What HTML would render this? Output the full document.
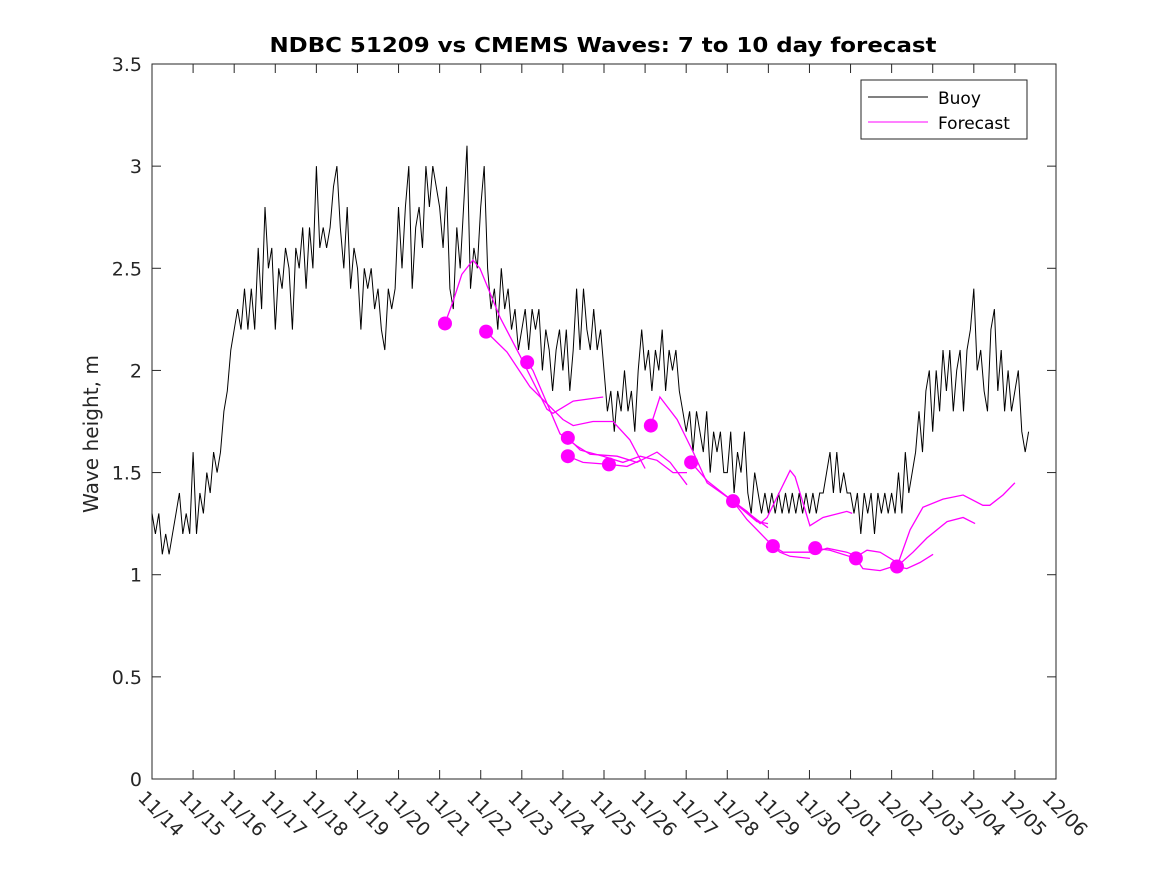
<!DOCTYPE html>
<html><head><meta charset="utf-8"><style>
body{margin:0;background:#fff;}
svg{display:block;font-family:"DejaVu Sans","Liberation Sans",sans-serif;}
</style></head><body>
<svg id="chart" width="1167" height="875" viewBox="0 0 1167 875">
<rect x="0" y="0" width="1167" height="875" fill="#fff"/>
<text x="603" y="52" text-anchor="middle" font-size="20" font-weight="bold" fill="#000" textLength="667" lengthAdjust="spacingAndGlyphs">NDBC 51209 vs CMEMS Waves: 7 to 10 day forecast</text>
<text transform="translate(98,434) rotate(-90)" text-anchor="middle" font-size="20" fill="#262626" textLength="158" lengthAdjust="spacingAndGlyphs">Wave height, m</text>
<g id="axes"></g>
<g id="buoy"></g>
<g id="fc"></g>
<g>
<rect x="861" y="80" width="166" height="59" fill="#fff" stroke="#262626" stroke-width="1"/>
<line x1="868" y1="97" x2="928" y2="97" stroke="#000" stroke-width="1"/>
<text x="938" y="104" font-size="17" fill="#000">Buoy</text>
<line x1="868" y1="122" x2="928" y2="122" stroke="#ff00ff" stroke-width="1"/>
<text x="938" y="129" font-size="17" fill="#000">Forecast</text>
</g>
</svg>
<script>
const xTickLabels=["11/14","11/15","11/16","11/17","11/18","11/19","11/20","11/21","11/22","11/23","11/24","11/25","11/26","11/27","11/28","11/29","11/30","12/01","12/02","12/03","12/04","12/05","12/06"];
const yTicks=[0,0.5,1,1.5,2,2.5,3,3.5];
const yTickLabels=["0","0.5","1","1.5","2","2.5","3","3.5"];
// buoy wave height, 2-hourly from 11/14 00:00
const buoyValues=[
1.3,1.2,1.3,1.1,1.2,1.1,1.2,1.3,1.4,1.2,1.3,1.2,
1.6,1.2,1.4,1.3,1.5,1.4,1.6,1.5,1.6,1.8,1.9,2.1,
2.2,2.3,2.2,2.4,2.2,2.4,2.2,2.6,2.3,2.8,2.5,2.6,
2.2,2.5,2.4,2.6,2.5,2.2,2.6,2.5,2.7,2.4,2.7,2.5,
3.0,2.6,2.7,2.6,2.7,2.9,3.0,2.7,2.5,2.8,2.4,2.6,
2.5,2.2,2.5,2.4,2.5,2.3,2.4,2.2,2.1,2.4,2.3,2.4,
2.8,2.5,2.8,3.0,2.4,2.7,2.8,2.6,3.0,2.8,3.0,2.9,
2.8,2.6,2.9,2.4,2.3,2.7,2.5,2.8,3.1,2.4,2.6,2.5,
2.8,3.0,2.5,2.3,2.4,2.2,2.5,2.3,2.4,2.2,2.3,2.1,
2.2,2.3,2.1,2.3,2.2,2.3,2.0,2.2,2.1,1.9,2.1,2.2,
2.0,2.2,1.9,2.1,2.4,2.1,2.4,2.2,2.1,2.3,2.1,2.2,
2.0,1.8,1.9,1.7,1.9,1.8,2.0,1.8,1.9,1.7,2.0,2.2,
2.0,2.1,1.9,2.1,2.0,2.2,1.9,2.1,2.0,2.1,1.9,1.8,
1.7,1.8,1.6,1.8,1.7,1.6,1.8,1.5,1.7,1.6,1.7,1.5,
1.5,1.7,1.4,1.6,1.5,1.7,1.4,1.3,1.5,1.4,1.3,1.4,
1.3,1.4,1.3,1.4,1.3,1.4,1.3,1.4,1.3,1.4,1.3,1.4,
1.3,1.4,1.3,1.4,1.4,1.5,1.6,1.4,1.6,1.4,1.5,1.4,
1.4,1.3,1.4,1.2,1.4,1.3,1.4,1.2,1.4,1.3,1.4,1.3,
1.4,1.3,1.5,1.3,1.6,1.4,1.5,1.6,1.8,1.6,1.9,2.0,
1.7,2.0,1.8,2.1,1.9,2.1,1.8,2.0,2.1,1.8,2.1,2.2,
2.4,2.0,2.1,1.9,1.8,2.2,2.3,1.9,2.1,1.8,2.0,1.8,
1.9,2.0,1.7,1.6,1.7];
const buoyStepDays=1/12;
// forecast segments: [day offset from 11/14, height]
const fcA=[[7.13,2.23],[7.33,2.34],[7.54,2.47],[7.81,2.54],[7.98,2.50],[8.47,2.26],[8.96,2.07],[9.61,1.81],[9.76,1.79],[10.25,1.85],[10.98,1.87]];
const fcB=[[8.13,2.19],[8.64,2.09],[9.20,1.92],[10.0,1.76],[10.25,1.73],[10.73,1.75],[11.22,1.75],[11.63,1.66],[12.0,1.52]];
const fcC=[[9.13,2.04],[9.27,2.0],[9.93,1.69],[10.34,1.63],[10.66,1.59],[11.32,1.58],[11.80,1.55],[12.29,1.60],[12.61,1.55],[13.02,1.44]];
const fcD=[[10.12,1.67],[10.42,1.61],[10.98,1.58],[11.46,1.55],[11.88,1.58],[12.29,1.56],[12.68,1.50],[13.02,1.50]];
const fcE=[[10.12,1.58],[10.49,1.55],[11.12,1.54],[11.56,1.53],[11.88,1.56]];
const fcG=[[12.14,1.73],[12.36,1.87],[12.78,1.76],[13.17,1.60],[13.51,1.45],[14.07,1.37],[14.72,1.26],[14.99,1.25]];
const fcH=[[13.12,1.55],[13.51,1.46],[14.14,1.36],[14.72,1.27],[14.99,1.23]];
const fcI=[[14.14,1.36],[14.48,1.31],[14.80,1.25],[14.97,1.28],[15.53,1.51],[15.65,1.48],[16.01,1.24],[16.33,1.28],[16.91,1.31],[17.04,1.30]];
const fcJ=[[14.14,1.36],[14.48,1.27],[15.11,1.14],[15.28,1.11],[15.53,1.09],[16.01,1.08]];
const fcK=[[15.11,1.14],[15.36,1.11],[16.14,1.11],[16.43,1.13],[16.91,1.11],[17.16,1.09],[17.40,1.12],[17.72,1.11],[18.13,1.06]];
const fcL=[[16.14,1.13],[16.5,1.12],[17.13,1.08],[17.30,1.03],[17.72,1.02],[18.03,1.04],[18.13,1.04]];
const fcM=[[18.13,1.04],[18.45,1.22],[18.76,1.33],[19.25,1.37],[19.74,1.39],[20.22,1.34],[20.39,1.34],[20.71,1.39],[21.0,1.45]];
const fcN=[[18.13,1.04],[18.52,1.11],[18.86,1.18],[19.35,1.26],[19.74,1.28],[20.03,1.25]];
const fcO=[[18.13,1.04],[18.37,1.03],[18.69,1.06],[19.01,1.10]];
const fcDots=[[7.13,2.23],[8.13,2.19],[9.13,2.04],[10.12,1.67],[10.12,1.58],[11.12,1.54],[12.14,1.73],[13.12,1.55],[14.14,1.36],[15.11,1.14],[16.14,1.13],[17.13,1.08],[18.13,1.04]];

const NS="http://www.w3.org/2000/svg";
const L=152,R=1056,T=64,B=779,DAYS=22,YMAX=3.5;
const xs=d=>L+(R-L)*d/DAYS;
const ys=v=>B-(B-T)*v/YMAX;
function mk(tag,attrs,parent){const e=document.createElementNS(NS,tag);for(const k in attrs)e.setAttribute(k,attrs[k]);parent.appendChild(e);return e;}
const axes=document.getElementById('axes');
const frame=mk('rect',{x:L,y:T,width:R-L,height:B-T,fill:'none',stroke:'#262626','stroke-width':1},axes);


yTicks.forEach((v,i)=>{
  const y=ys(v);
  const t1=mk('line',{x1:L,y1:y,x2:L+9,y2:y,stroke:'#262626'},axes);
  
  
  const t2=mk('line',{x1:R-9,y1:y,x2:R,y2:y,stroke:'#262626'},axes);
  
  
  const tx=mk('text',{x:L-10,y:y+7,'text-anchor':'end','font-size':19,fill:'#262626'},axes);
  tx.textContent=yTickLabels[i];
  
  
});
xTickLabels.forEach((lab,i)=>{
  const x=xs(i);
  const t1=mk('line',{x1:x,y1:B,x2:x,y2:B-9,stroke:'#262626'},axes);
  
  
  const t2=mk('line',{x1:x,y1:T,x2:x,y2:T+9,stroke:'#262626'},axes);
  
  
  const tx=mk('text',{transform:`translate(${x-15},${B+20}) rotate(45)`,'font-size':19,fill:'#262626'},axes);
  tx.textContent=lab;
  
  
});
const buoyG=document.getElementById('buoy');
const bp=buoyValues.map((v,i)=>xs(i*buoyStepDays).toFixed(1)+','+ys(v).toFixed(1)).join(' ');
const bl=mk('polyline',{points:bp,fill:'none',stroke:'#000','stroke-width':1},buoyG);


const fcG1=document.getElementById('fc');
[fcA,fcB,fcC,fcD,fcE,fcG,fcH,fcI,fcJ,fcK,fcL,fcM,fcN,fcO].forEach(s=>{
  const p=s.map(q=>xs(q[0]).toFixed(1)+','+ys(q[1]).toFixed(1)).join(' ');
  const pl=mk('polyline',{points:p,fill:'none',stroke:'#ff00ff','stroke-width':1.3},fcG1);
  
  
});
fcDots.forEach(q=>{
  const c=mk('circle',{cx:xs(q[0]),cy:ys(q[1]),r:7,fill:'#ff00ff'},fcG1);
  
  
});
</script>
</body></html>
